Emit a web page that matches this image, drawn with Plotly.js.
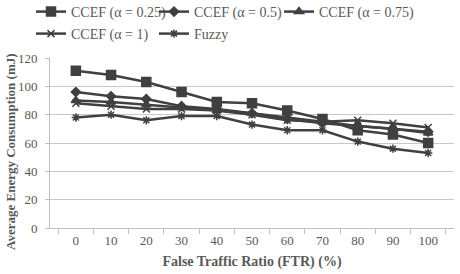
<!DOCTYPE html>
<html>
<head>
<meta charset="utf-8">
<script src="https://cdn.plot.ly/plotly-3.0.1.min.js"></script>
<style>
  html, body { margin: 0; padding: 0; background: #fff; }
  #chart { width: 460px; height: 274px; }
</style>
</head>
<body>
<div id="chart"></div>
<script>
// False traffic ratio categories (%)
const ftr = ['0', '10', '20', '30', '40', '50', '60', '70', '80', '90', '100'];

// Average energy consumption (mJ) per scheme
const ccef025 = [111, 108, 103, 96, 89, 88, 83, 77, 69, 66, 60];
const ccef05  = [96, 93, 91, 86, 84, 81, 77, 74, 72, 70, 68];
const ccef075 = [90, 89, 87, 85, 83, 81, 78, 75, 72, 70, 67];
const ccef1   = [88, 86, 84, 84, 83, 80, 76, 75, 76, 74, 71];
const fuzzy   = [78, 80, 76, 79, 79, 73, 69, 69, 61, 56, 53];

const seriesNames = ['CCEF (α = 0.25)', 'CCEF (α = 0.5)', 'CCEF (α = 0.75)', 'CCEF (α = 1)', 'Fuzzy'];
const xTitle = 'False Traffic Ratio (FTR) (%)';
const yTitle = 'Average Energy Consumption (mJ)';

const ink = '#404040';
const serif = '"Liberation Serif", "Times New Roman", serif';
const W = 460, H = 274;
const M = { l: 50, r: 6, t: 58, b: 46 };
const PW = W - M.l - M.r, PH = H - M.t - M.b;

function trace(name, y, symbol, size, legend) {
  return {
    type: 'scatter',
    mode: 'lines+markers',
    name: name,
    legend: legend,
    x: ftr,
    y: y,
    line: { color: ink, width: 2.5 },
    marker: { symbol: symbol, size: size, color: ink, line: { color: ink, width: 1.5 } }
  };
}

const data = [
  trace(seriesNames[0], ccef025, 'square', 9, 'legend'),
  trace(seriesNames[1], ccef05, 'diamond', 7, 'legend2'),
  trace(seriesNames[2], ccef075, 'triangle-up', 8, 'legend3'),
  trace(seriesNames[3], ccef1, 'x-thin', 7, 'legend4'),
  trace(seriesNames[4], fuzzy, 'asterisk', 7, 'legend5')
];

// One legend box per entry, placed on a two-row grid above the plot
function legendAt(left, midY) {
  return {
    orientation: 'h',
    x: (left - M.l) / PW, xanchor: 'left',
    y: 1 - midY / H, yanchor: 'middle',
    yref: 'container',
    itemwidth: 30,
    font: { family: serif, size: 14, color: '#595959' },
    bgcolor: 'rgba(0,0,0,0)'
  };
}

const layout = {
  width: W,
  height: H,
  margin: Object.assign({ autoexpand: false }, M),
  paper_bgcolor: '#ffffff',
  plot_bgcolor: '#ffffff',
  font: { family: serif, size: 13, color: '#595959' },
  showlegend: true,
  legend: legendAt(31, 12),
  legend2: legendAt(154, 12),
  legend3: legendAt(279, 12),
  legend4: legendAt(31, 34),
  legend5: legendAt(154, 34),
  xaxis: {
    type: 'category',
    tickson: 'boundaries',
    ticks: 'outside',
    ticklen: 5,
    tickcolor: '#bfbfbf',
    showline: true,
    linecolor: '#bfbfbf',
    linewidth: 1,
    showgrid: false,
    zeroline: false,
    tickfont: { family: serif, size: 13, color: '#595959' },
    title: {
      text: xTitle,
      font: { family: serif, size: 14, color: '#595959', weight: 'bold' },
      standoff: 9
    }
  },
  yaxis: {
    range: [0, 120],
    dtick: 20,
    ticks: 'outside',
    ticklen: 4,
    tickcolor: '#bfbfbf',
    ticklabelstandoff: 5,
    showline: true,
    linecolor: '#bfbfbf',
    linewidth: 1,
    showgrid: true,
    gridcolor: '#c8c8c8',
    zeroline: false,
    tickfont: { family: serif, size: 13, color: '#595959' }
  },
  annotations: [{
    // vertical axis title, set a little below the plot centre
    text: yTitle,
    xref: 'paper', yref: 'paper',
    x: (10 - M.l) / PW, y: (H - M.b - 152) / PH,
    xanchor: 'center', yanchor: 'middle',
    textangle: -90,
    showarrow: false,
    font: { family: serif, size: 13, color: '#595959', weight: 'bold' }
  }]
};

Plotly.newPlot('chart', data, layout, { displayModeBar: false, staticPlot: true });
</script>
</body>
</html>
